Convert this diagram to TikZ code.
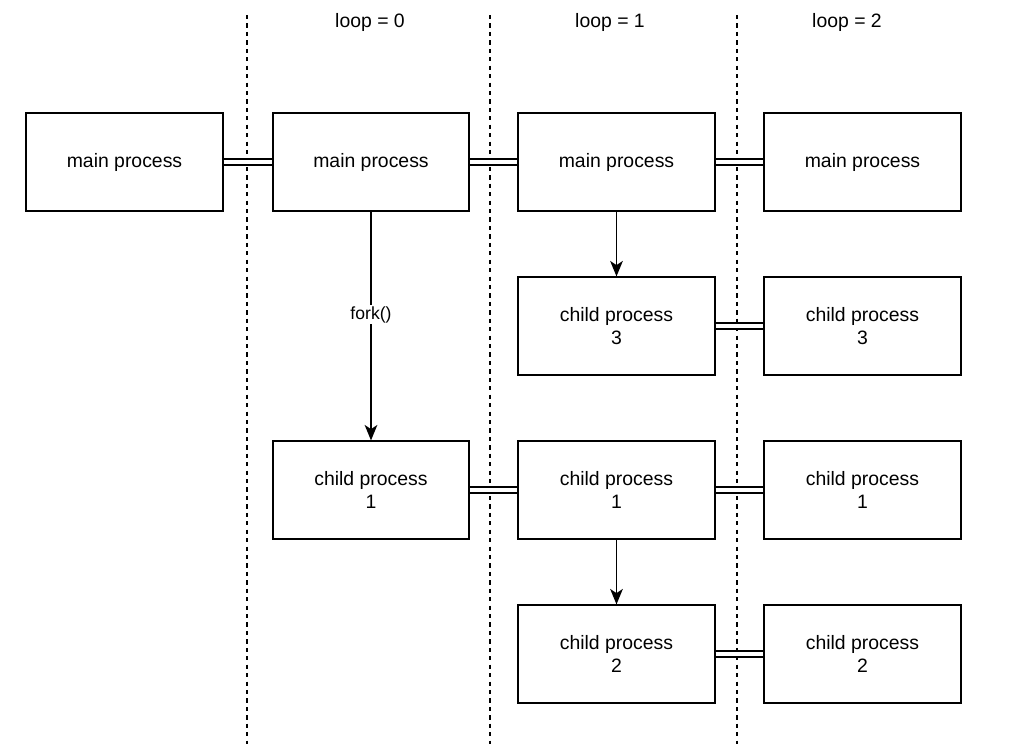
\documentclass[tikz,border=0pt]{standalone}
\usepackage{fontspec}
\setmainfont{Liberation Sans}
\usetikzlibrary{arrows.meta}

\begin{document}
\begin{tikzpicture}[x=0.025cm, y=-0.025cm,
    proc/.style={draw, line width=1.4pt, minimum width=4.9cm, minimum height=2.43cm, inner sep=0pt, align=center, font=\fontsize{13.8}{16.5}\selectfont},
    link/.style={double, line width=1pt, double distance=3.1pt},
    spawn/.style={line width=1.3pt, -{Stealth[length=11pt, width=9pt, inset=3pt]}}]
    \useasboundingbox (0,0) rectangle (1028,744);

    % draw dashed separators
    \foreach \x in {247,490,737}
    \draw[dashed, line width=0.9pt, dash pattern=on 3pt off 3pt] (\x,15) -- (\x,744);

    % draw loop labels
    \node[font=\fontsize{13.8}{16.5}\selectfont] (loop0) at (370,22) {loop = 0};
    \node[font=\fontsize{13.8}{16.5}\selectfont] (loop1) at (610,22) {loop = 1};
    \node[font=\fontsize{13.8}{16.5}\selectfont] (loop2) at (847,22) {loop = 2};

    % draw processes
    \node[proc] (main0) at (124.5,162) {main process};
    \node[proc] (main1) at (371,162) {main process};
    \node[proc] (main2) at (616.5,162) {main process};
    \node[proc] (main3) at (862.5,162) {main process};
    \node[proc] (childA2) at (616.5,326) {child process\\3};
    \node[proc] (childA3) at (862.5,326) {child process\\3};
    \node[proc] (childB1) at (371,490) {child process\\1};
    \node[proc] (childB2) at (616.5,490) {child process\\1};
    \node[proc] (childB3) at (862.5,490) {child process\\1};
    \node[proc] (childC2) at (616.5,654) {child process\\2};
    \node[proc] (childC3) at (862.5,654) {child process\\2};

    % draw links between loops
    \draw[link] (main0) -- (main1);
    \draw[link] (main1) -- (main2);
    \draw[link] (main2) -- (main3);
    \draw[link] (childA2) -- (childA3);
    \draw[link] (childB1) -- (childB2);
    \draw[link] (childB2) -- (childB3);
    \draw[link] (childC2) -- (childC3);

    % draw forks
    \draw[spawn] (main1) -- (childB1) node[pos=0.45, fill=white, inner sep=1pt, font=\fontsize{12.5}{15}\selectfont] (forklabel) {fork()};
    \draw[spawn] (main2) -- (childA2);
    \draw[spawn] (childB2) -- (childC2);
\end{tikzpicture}
\end{document}
